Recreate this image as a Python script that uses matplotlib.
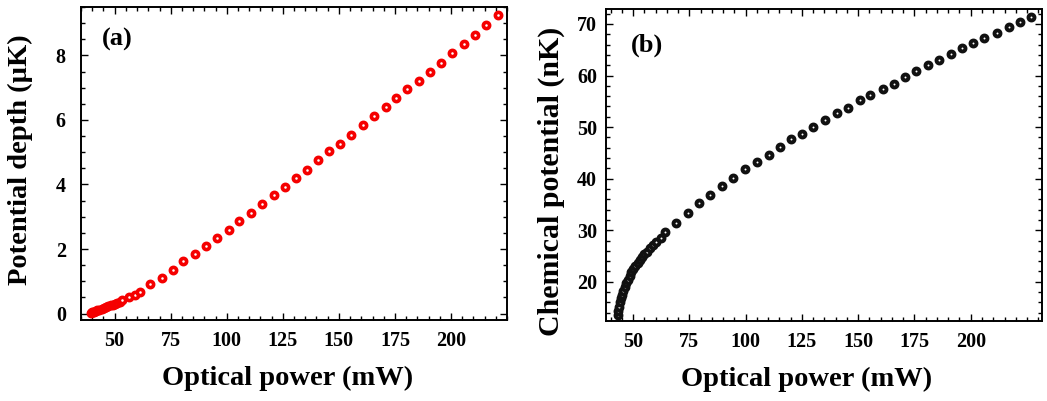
import matplotlib
matplotlib.use("Agg")
from matplotlib import pyplot as plt
from matplotlib.ticker import MultipleLocator

# panel (a): potential depth vs optical power
power_a = [39.3, 39.8, 40.3, 40.8, 41.5, 42.3, 43.2, 44.2, 45.2, 46.2, 47.2, 48.2,
           49.2, 50.2, 51.2, 52.2, 53.3, 56.2, 58.9, 61.2,
           65.9, 71.0, 75.9, 80.5, 85.8, 90.7, 95.8, 101.0, 105.6, 110.8, 115.9,
           120.9, 126.0, 130.7, 135.6, 140.8, 145.7, 150.5, 155.5, 160.7, 165.7,
           171.0, 175.5, 180.5, 185.7, 190.8, 195.7, 200.6, 205.6, 210.7, 215.7, 220.8]
depth_a = [0.03, 0.04, 0.05, 0.06, 0.08, 0.10, 0.12, 0.14, 0.16, 0.19, 0.22, 0.25,
           0.28, 0.31, 0.34, 0.37, 0.41, 0.51, 0.57, 0.68,
           0.93, 1.11, 1.34, 1.62, 1.86, 2.09, 2.33, 2.60, 2.88, 3.12, 3.40,
           3.66, 3.91, 4.19, 4.46, 4.75, 5.03, 5.26, 5.54, 5.83, 6.11,
           6.39, 6.67, 6.95, 7.22, 7.50, 7.78, 8.07, 8.35, 8.63, 8.95, 9.24]

# panel (b): chemical potential vs optical power
power_b = [43.3, 43.5, 43.8, 44.1, 44.5, 45.0, 45.6, 46.3, 47.0, 47.8, 48.5, 49.3,
           50.2, 51.0, 52.0, 53.0, 54.0, 55.0, 56.0, 57.4, 58.9, 60.4, 62.4, 64.3,
           69.3, 74.5, 79.3, 84.4, 89.6, 94.6, 99.9, 104.9, 110.2, 115.2, 120.0,
           125.1, 130.1, 135.4, 140.4, 145.4, 150.6, 155.4, 161.0, 165.8, 171.0,
           175.8, 180.9, 186.1, 191.1, 196.1, 201.0, 206.0, 211.6, 216.9, 221.9, 226.7]
mu_b = [13.5, 14.3, 15.2, 16.0, 16.8, 17.5, 18.2, 19.0, 19.7, 20.4, 21.1, 21.9,
        22.5, 23.1, 23.7, 24.2, 24.8, 25.3, 25.8, 26.5, 27.2, 27.8, 28.5, 29.6,
        31.45, 33.4, 35.3, 36.9, 38.6, 40.2, 41.9, 43.2, 44.6, 46.2, 47.6,
        48.7, 50.0, 51.4, 52.7, 53.8, 55.25, 56.3, 57.4, 58.4, 59.8,
        60.9, 62.1, 63.1, 64.2, 65.3, 66.4, 67.2, 68.3, 69.35, 70.4, 71.3]

plt.rcParams['font.family'] = 'Liberation Serif'
plt.rcParams['font.weight'] = 'bold'

fig = plt.figure(figsize=(10.47, 4.01), dpi=100)
ax1 = fig.add_axes([0.0774, 0.202, 0.4069, 0.7805])
ax2 = fig.add_axes([0.5788, 0.1995, 0.4161, 0.778])


def style(ax, ypad):
    for s in ax.spines.values():
        s.set_linewidth(1.4)
    ax.tick_params(which='both', direction='in', top=True, right=True, width=1)
    ax.tick_params(which='major', length=5)
    ax.tick_params(which='minor', length=3)
    ax.tick_params(axis='x', pad=8, labelsize=14.5)
    ax.tick_params(axis='y', pad=ypad, labelsize=14.5)
    for lab in ax.get_xticklabels() + ax.get_yticklabels():
        lab.set_fontweight('bold')


ax1.plot(power_a, depth_a, 'o', ls='none', color='#f50000', mfc='white', ms=4.5, mew=2.6)
ax1.set_xlim(35, 225)
ax1.set_ylim(-0.2, 9.5)
ax1.xaxis.set_minor_locator(MultipleLocator(5))
ax1.yaxis.set_major_locator(MultipleLocator(2))
ax1.yaxis.set_minor_locator(MultipleLocator(0.5))
ax1.set_xticks([50, 75, 100, 125, 150, 175, 200])
style(ax1, 11)
ax1.set_xlabel('Optical power (mW)', fontsize=20.5, fontweight='bold')
ax1.set_ylabel('Potential depth (\u00b5K)', fontsize=20.5, fontweight='bold')
ax1.xaxis.set_label_coords(0.484, -0.145)
ax1.yaxis.set_label_coords(-0.113, 0.511)
ax1.text(0.048, 0.895, '(a)', transform=ax1.transAxes, fontsize=19, fontweight='bold',
         va='center')

ax2.plot(power_b, mu_b, 'o', ls='none', color='#111111', mfc='white', ms=4.3, mew=2.8)
ax2.set_xlim(38, 231.5)
ax2.set_ylim(12.4, 72.9)
ax2.xaxis.set_minor_locator(MultipleLocator(5))
ax2.yaxis.set_minor_locator(MultipleLocator(2))
ax2.set_xticks([50, 75, 100, 125, 150, 175, 200])
ax2.set_yticks([20, 30, 40, 50, 60, 70])
style(ax2, 6.5)
ax2.set_xlabel('Optical power (mW)', fontsize=20.5, fontweight='bold')
ax2.set_ylabel('Chemical potential (nK)', fontsize=21.5, fontweight='bold')
ax2.xaxis.set_label_coords(0.461, -0.146)
ax2.yaxis.set_label_coords(-0.094, 0.446)
ax2.text(0.058, 0.885, '(b)', transform=ax2.transAxes, fontsize=19, fontweight='bold',
         va='center')

fig.savefig('out.png', dpi=100)
